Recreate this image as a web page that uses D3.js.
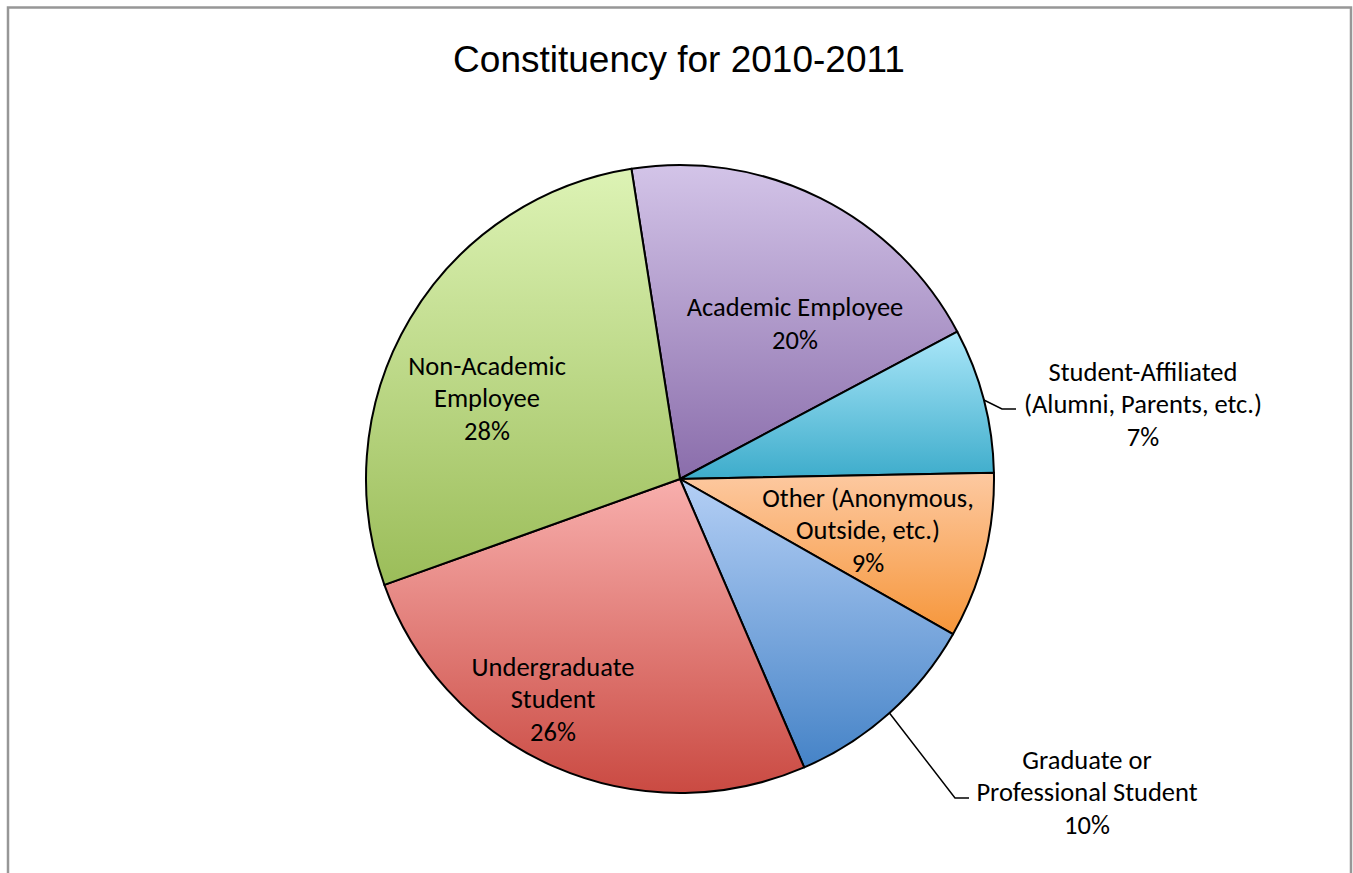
<!DOCTYPE html>
<html>
<head>
<meta charset="utf-8">
<script src="https://cdn.jsdelivr.net/npm/d3@7"></script>
<style>
  body { margin: 0; background: #fff; }
  svg { display: block; }
</style>
</head>
<body>
<svg id="chart"></svg>
<script>
// data (clockwise from the top)
const categories = [
  "Academic Employee",
  "Student-Affiliated (Alumni, Parents, etc.)",
  "Other (Anonymous, Outside, etc.)",
  "Graduate or Professional Student",
  "Undergraduate Student",
  "Non-Academic Employee"
];
const shares = [19.7, 7.45, 8.55, 10.3, 26.0, 28.0];
// how Excel wrapped each label
const labelLines = [
  ["Academic Employee"],
  ["Student-Affiliated", "(Alumni, Parents, etc.)"],
  ["Other (Anonymous,", "Outside, etc.)"],
  ["Graduate or", "Professional Student"],
  ["Undergraduate", "Student"],
  ["Non-Academic", "Employee"]
];
const titleText = "Constituency for 2010-2011";

// styling / layout
const colorTop = ["#d3c4e8", "#abe7f9", "#fdc9a1", "#b4cff5", "#f8afad", "#ddf3b5"];
const colorBottom = ["#8a6dab", "#3daccb", "#f6963a", "#4583c7", "#ca4a42", "#9bbd59"];
// label block centre, relative to pie centre
const labelOffset = [[115, -156], [463, -75], [188, 51], [407, 313], [-127, 220], [-193, -81]];
// leader elbows for labels that sit outside the pie (relative to pie centre)
const leaderElbow = [null, [322, -70], null, [275, 319], null, null];

const config = {
  width: 1353, height: 873,
  cx: 680, cy: 479, radius: 314,
  startDeg: -8.9,
  lineHeight: 32.5
};

const svg = d3.select("#chart")
  .attr("width", config.width)
  .attr("height", config.height);

// chart area frame
svg.append("rect")
  .attr("x", 8).attr("y", 7.5)
  .attr("width", 1343).attr("height", 900)
  .attr("fill", "#fff")
  .attr("stroke", "#979797")
  .attr("stroke-width", 2.5);

svg.append("text")
  .attr("x", 679).attr("y", 72)
  .attr("text-anchor", "middle")
  .style("font-family", "'Liberation Sans', Arial, sans-serif")
  .style("font-size", "37px")
  .attr("fill", "#000")
  .text(titleText);

// one vertical gradient per slice
const defs = svg.append("defs");
categories.forEach((c, i) => {
  const g = defs.append("linearGradient")
    .attr("id", "grad" + i)
    .attr("x1", 0).attr("y1", 0).attr("x2", 0).attr("y2", 1);
  g.append("stop").attr("offset", "0%").attr("stop-color", colorTop[i]);
  g.append("stop").attr("offset", "100%").attr("stop-color", colorBottom[i]);
});

const data = categories.map((c, i) => ({ name: c, value: shares[i], i: i }));
const total = d3.sum(shares);

const start = config.startDeg * Math.PI / 180;
const pie = d3.pie()
  .sort(null)
  .value(d => d.value)
  .startAngle(start)
  .endAngle(start + 2 * Math.PI);

const arc = d3.arc().innerRadius(0).outerRadius(config.radius);

const chart = svg.append("g")
  .attr("transform", `translate(${config.cx},${config.cy})`);

const arcs = pie(data);

chart.selectAll(".slice")
  .data(arcs)
  .join("path")
    .attr("class", "slice")
    .attr("d", arc)
    .attr("fill", d => `url(#grad${d.data.i})`)
    .attr("stroke", "#000")
    .attr("stroke-width", 2)
    .attr("stroke-linejoin", "round");

// leader lines
arcs.forEach(d => {
  const elbow = leaderElbow[d.data.i];
  if (!elbow) return;
  const mid = (d.startAngle + d.endAngle) / 2;
  const sx = config.radius * Math.sin(mid);
  const sy = -config.radius * Math.cos(mid);
  chart.append("polyline")
    .attr("points", `${sx},${sy} ${elbow[0]},${elbow[1]} ${elbow[0] + 14},${elbow[1]}`)
    .attr("fill", "none")
    .attr("stroke", "#000")
    .attr("stroke-width", 1.5);
});

const pct = d3.format(".0%");

// labels
arcs.forEach(d => {
  const i = d.data.i;
  const lines = labelLines[i].concat([pct(d.data.value / total)]);
  const off = labelOffset[i];
  const top = off[1] - (lines.length - 1) * config.lineHeight / 2;
  const t = chart.append("text")
    .attr("text-anchor", "middle")
    .style("font-family", "Carlito, Calibri, Lato, sans-serif")
    .style("font-size", "26.5px")
    .attr("fill", "#000");
  lines.forEach((ln, k) => {
    t.append("tspan")
      .attr("x", off[0])
      .attr("y", top + k * config.lineHeight)
      .attr("dy", "0.35em")
      .text(ln);
  });
});
</script>
</body>
</html>
